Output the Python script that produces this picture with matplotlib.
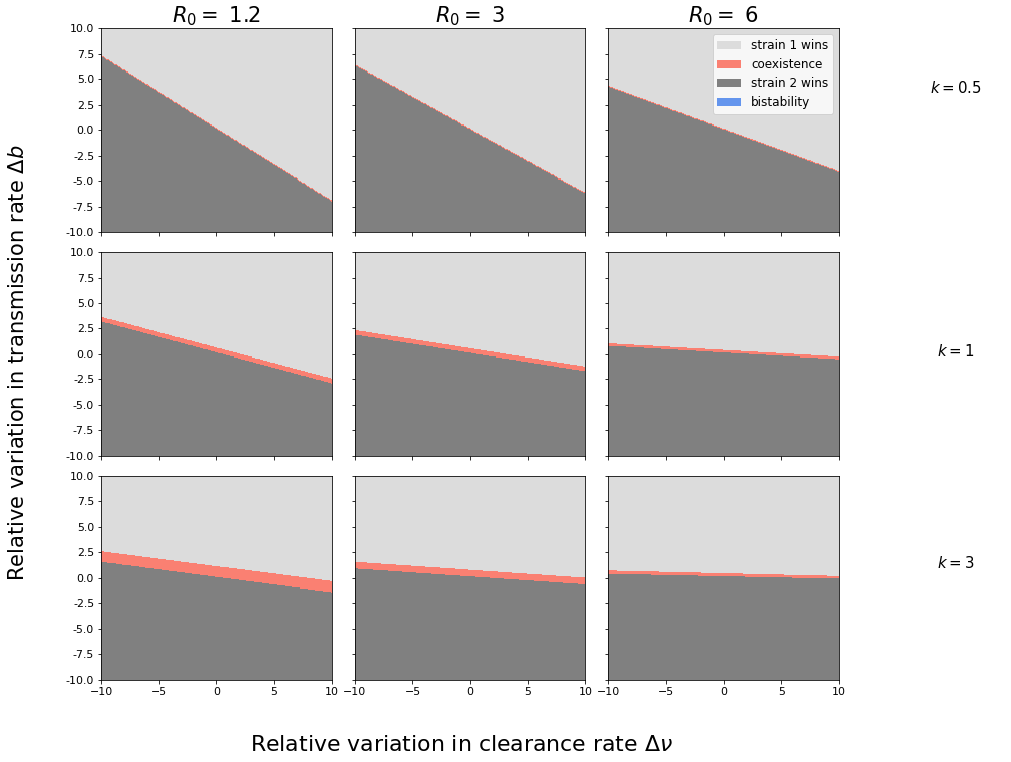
import numpy as np
import matplotlib
matplotlib.use("Agg")
import matplotlib.pyplot as plt
from matplotlib.colors import ListedColormap, BoundaryNorm
from matplotlib.patches import Patch

R0_values = [1.2, 3, 6]
k_values = [0.5, 1, 3]

# Boundaries of the coexistence band, read at delta_nu = -10 and +10
# rows: k, cols: R0
upper_left = [[7.35, 6.45, 4.35],
              [3.68, 2.37, 1.05],
              [2.63, 1.58, 0.72]]
upper_right = [[-6.9, -6.15, -4.05],
               [-2.42, -1.24, -0.26],
               [-0.32, 0.0, 0.17]]
lower_left = [[7.25, 6.35, 4.25],
              [3.22, 1.91, 0.80],
              [1.58, 0.92, 0.39]]
lower_right = [[-7.0, -6.25, -4.15],
               [-2.9, -1.70, -0.52],
               [-1.41, -0.65, -0.10]]

labels = ["strain 1 wins", "coexistence", "strain 2 wins", "bistability"]
colors = ["#dcdcdc", "#fa8072", "#808080", "#6495ed"]

cmap = ListedColormap(colors)
norm = BoundaryNorm([-0.5, 0.5, 1.5, 2.5, 3.5], cmap.N)

dpi = 72
fig, axes = plt.subplots(3, 3, figsize=(1011 / dpi, 762 / dpi), dpi=dpi,
                         sharex=True, sharey=True)
fig.subplots_adjust(left=0.1, right=0.83, top=0.963, bottom=0.108,
                    wspace=0.1, hspace=0.0985)

grid = np.linspace(-10, 10, 201)
NU, B = np.meshgrid(grid, grid)

for i, k in enumerate(k_values):
    for j, r in enumerate(R0_values):
        ax = axes[i, j]
        up = upper_left[i][j] + (upper_right[i][j] - upper_left[i][j]) * (NU + 10) / 20
        lo = lower_left[i][j] + (lower_right[i][j] - lower_left[i][j]) * (NU + 10) / 20
        Z = np.where(B > up, 0, np.where(B >= lo, 1, 2))
        ax.pcolormesh(NU, B, Z, cmap=cmap, norm=norm, shading="nearest")
        ax.set_xlim(-10, 10)
        ax.set_ylim(-10, 10)
        ax.set_xticks([-10, -5, 0, 5, 10])
        ax.set_yticks(np.arange(-10, 10.01, 2.5))
        ax.yaxis.set_major_formatter(matplotlib.ticker.FormatStrFormatter("%.1f"))
        ax.tick_params(labelsize=11)
        if i == 0:
            ax.set_title(f"$R_0 = $ {r}", fontsize=21)

handles = [Patch(facecolor=c, label=l) for c, l in zip(colors, labels)]
axes[0, 2].legend(handles=handles, loc="upper right", fontsize=12)

row_label_y = [88, 351, 563]
for k, yp in zip(k_values, row_label_y):
    fig.text(956 / 1011, 1 - yp / 762, f"$k = {k}$", fontsize=15,
             ha="center", va="center")

fig.text(0.456, 0.022, r"Relative variation in clearance rate $\Delta\nu$",
         fontsize=22, ha="center", va="center")
fig.text(0.018, 0.524, r"Relative variation in transmission rate $\Delta b$",
         fontsize=21, ha="center", va="center", rotation=90)

fig.savefig("out.png", dpi=dpi)
